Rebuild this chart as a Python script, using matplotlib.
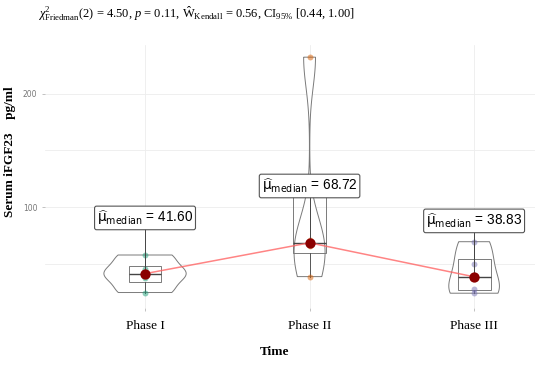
import numpy as np
import matplotlib
matplotlib.use("Agg")
import matplotlib.pyplot as plt

# data (4 subjects per phase)
phases = ["Phase I", "Phase II", "Phase III"]
phase_1 = [25.0, 37.8, 45.4, 58.0]
phase_2 = [39.0, 66.3, 71.1, 232.0]
phase_3 = [24.4, 27.7, 50.0, 69.7]
medians = [41.60, 68.72, 38.83]
point_colors = ["#1b9e77", "#d95f02", "#7570b3"]
label_y = [90.6, 118.7, 88.0]

title = (r"$\mathit{\chi}^2_{\mathrm{Friedman}}$(2) = 4.50, $\mathit{p}$ = 0.11, "
         r"$\hat{\mathrm{W}}_{\mathrm{Kendall}}$ = 0.56, CI$_{95\%}$ [0.44, 1.00]")

plt.rcParams["mathtext.fontset"] = "custom"
plt.rcParams["mathtext.rm"] = "Liberation Serif"
plt.rcParams["mathtext.it"] = "Liberation Serif:italic"
plt.rcParams["mathtext.bf"] = "Liberation Serif:bold"


def violin_outline(vals, grid_n=512):
    vals = np.asarray(vals)
    n = len(vals)
    iqr = np.subtract(*np.percentile(vals, [75, 25]))
    bw = 0.9 * min(vals.std(ddof=1), iqr / 1.34) * n ** -0.2
    ys = np.linspace(vals.min(), vals.max(), grid_n)
    dens = np.exp(-0.5 * ((ys[:, None] - vals[None, :]) / bw) ** 2).sum(1)
    dens /= n * bw * np.sqrt(2 * np.pi)
    return ys, dens


fig = plt.figure(figsize=(5.5, 3.65), dpi=100)
ax = fig.add_axes([0.0818, 0.1562, 0.8909, 0.7205])

groups = [phase_1, phase_2, phase_3]
xs = np.arange(1, len(phases) + 1)

outlines = [violin_outline(g) for g in groups]
dmax = max(d.max() for _, d in outlines)
for x, (ys, d) in zip(xs, outlines):
    hw = d / dmax * 0.25
    px = np.concatenate([x - hw, (x + hw)[::-1], [x - hw[0]]])
    py = np.concatenate([ys, ys[::-1], [ys[0]]])
    ax.fill(px, py, facecolor="white", edgecolor="#7a7a7a", lw=0.7, zorder=2)

ax.boxplot(groups, positions=xs, widths=0.2, showfliers=False, patch_artist=True,
           boxprops=dict(facecolor="none", edgecolor="#7a7a7a", lw=0.7),
           whiskerprops=dict(color="#555555", lw=0.7),
           capprops=dict(visible=False),
           medianprops=dict(color="#444444", lw=1.0), zorder=3)

for x, g, c in zip(xs, groups, point_colors):
    ax.scatter([x] * len(g), g, s=18, color=c, alpha=0.5, lw=0, zorder=4)

ax.plot(xs, medians, color="#ff6666", lw=1.1, alpha=0.8, zorder=5)
ax.scatter(xs, medians, s=55, color="#8b0000", zorder=6, lw=0)

for x, m, ly in zip(xs, medians, label_y):
    ax.plot([x, x], [m, ly], color="#444444", lw=0.7, zorder=5)
    ax.text(x, ly, r"$\widehat{\mathrm{\mu}}_{\mathrm{median}}$" + f" = {m:.2f}",
            ha="center", va="center", fontsize=9.8, family="Liberation Sans",
            math_fontfamily="dejavusans", zorder=7,
            bbox=dict(boxstyle="round,pad=0.18,rounding_size=0.15", fc="white",
                      ec="#555555", lw=0.8))

ax.set_xlim(0.392, 3.37)
ax.set_ylim(11.4, 242.7)
ax.set_xticks(xs)
ax.set_xticklabels(phases, family="Liberation Serif", fontsize=9.5)
ax.set_yticks([100, 200])
ax.set_yticks([50, 150], minor=True)
ax.tick_params(axis="y", labelsize=5.5, labelcolor="#777777", color="#aaaaaa",
               length=2, width=0.5)
ax.tick_params(axis="y", which="minor", length=0)
ax.tick_params(axis="x", length=2, width=0.5, color="#aaaaaa", pad=7)
ax.grid(True, which="both", color="#ededed", lw=0.6, zorder=0)
ax.set_axisbelow(True)
for s in ax.spines.values():
    s.set_visible(False)

fig.text(0.5, 0.035, "Time", ha="center", va="center", fontsize=9.5,
         family="Liberation Serif", weight="bold")
fig.text(0.018, 0.584, "Serum iFGF23    pg/ml", rotation=90, ha="center",
         va="center", fontsize=9.5, family="Liberation Serif", weight="bold")
fig.text(0.069, 0.962, title, ha="left", va="center", fontsize=9.0,
         family="Liberation Serif")

fig.savefig("out.png", dpi=100)
